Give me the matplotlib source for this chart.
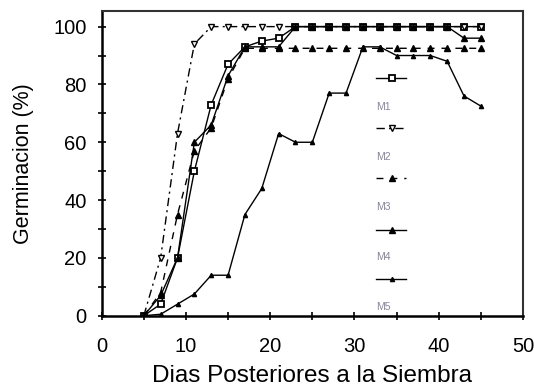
import numpy as np
import matplotlib
matplotlib.use("Agg")
import matplotlib.pyplot as plt
from matplotlib.ticker import MultipleLocator

plt.rcParams['font.family'] = ['Liberation Sans', 'DejaVu Sans']

# dias despues de la siembra
dias = [5, 7, 9, 11, 13, 15, 17, 19, 21, 23, 25, 27, 29, 31, 33, 35, 37, 39, 41, 43, 45]

# germinacion acumulada (%) por tratamiento
m1 = [0, 4, 20, 50, 73, 87, 93, 95, 96, 100, 100, 100, 100, 100, 100, 100, 100, 100, 100, 100, 100]
m2 = [0, 20, 63, 94, 100, 100, 100, 100, 100, 100, 100, 100, 100, 100, 100, 100, 100, 100, 100, 100, 100]
m3 = [0, 8, 35, 57, 65, 82, 92.5, 92.5, 92.5, 92.5, 92.5, 92.5, 92.5, 92.5, 92.5, 92.5, 92.5, 92.5, 92.5, 92.5, 92.5]
m4 = [0, 7, 20, 60, 66, 83, 93, 93, 93, 100, 100, 100, 100, 100, 100, 100, 100, 100, 100, 96, 96]
m5 = [0, 0.5, 4, 7.5, 14, 14, 35, 44, 63, 60, 60, 77, 77, 93, 93, 90, 90, 90, 88, 76, 72.5]

nombres = ['M1', 'M2', 'M3', 'M4', 'M5']
series = [m1, m2, m3, m4, m5]

estilos = [
    dict(ls='-', marker='s', ms=4, mfc='white', mec='black', mew=1.3),
    dict(ls=(0, (6, 3, 1.5, 3)), marker='v', ms=4.5, mfc='white', mec='black'),
    dict(ls=(0, (5, 5)), marker='^', ms=4, mfc='black', mec='black'),
    dict(ls='-', marker='^', ms=4, mfc='black', mec='black'),
    dict(ls='-', marker='^', ms=3, mfc='black', mec='black'),
]

fig = plt.figure(figsize=(5.34, 3.91), dpi=100)
ax = fig.add_axes([0.1904, 0.1926, 0.789, 0.78])

for y, st in zip(series, estilos):
    ax.plot(dias, y, color='black', lw=1.0, **st)

ax.set_xlim(0, 50)
ax.set_ylim(0, 105.5)
ax.set_yticks([0, 20, 40, 60, 80, 100])
ax.yaxis.set_minor_locator(MultipleLocator(10))
ax.xaxis.set_minor_locator(MultipleLocator(5))
ax.tick_params(which='both', direction='inout', length=6, width=1.2, labelsize=14.5)
ax.tick_params(axis='x', pad=12)
ax.tick_params(axis='y', pad=8)

for lado in ['left', 'bottom']:
    ax.spines[lado].set_linewidth(1.8)
for lado in ['top', 'right']:
    ax.spines[lado].set_linewidth(1.5)
    ax.spines[lado].set_color('#333333')

ax.set_xlabel('Dias Posteriores a la Siembra', fontsize=17.5, labelpad=7)
ax.set_ylabel('Germinacion (%)', fontsize=15.5, labelpad=14)

# leyenda: simbolo arriba, nombre abajo
sim_y = [0.778, 0.615, 0.45, 0.281, 0.119]
txt_y = [0.685, 0.521, 0.357, 0.193, 0.03]
for nom, st, sy, ty in zip(nombres, estilos, sim_y, txt_y):
    ax.plot([0.651, 0.689, 0.723], [sy, sy, sy], color='black', lw=1.0,
            transform=ax.transAxes, markevery=[1], **st)
    ax.text(0.651, ty, nom, transform=ax.transAxes, fontsize=7.5,
            color='#85859a', va='center', ha='left')

fig.savefig('out.png', dpi=100)
